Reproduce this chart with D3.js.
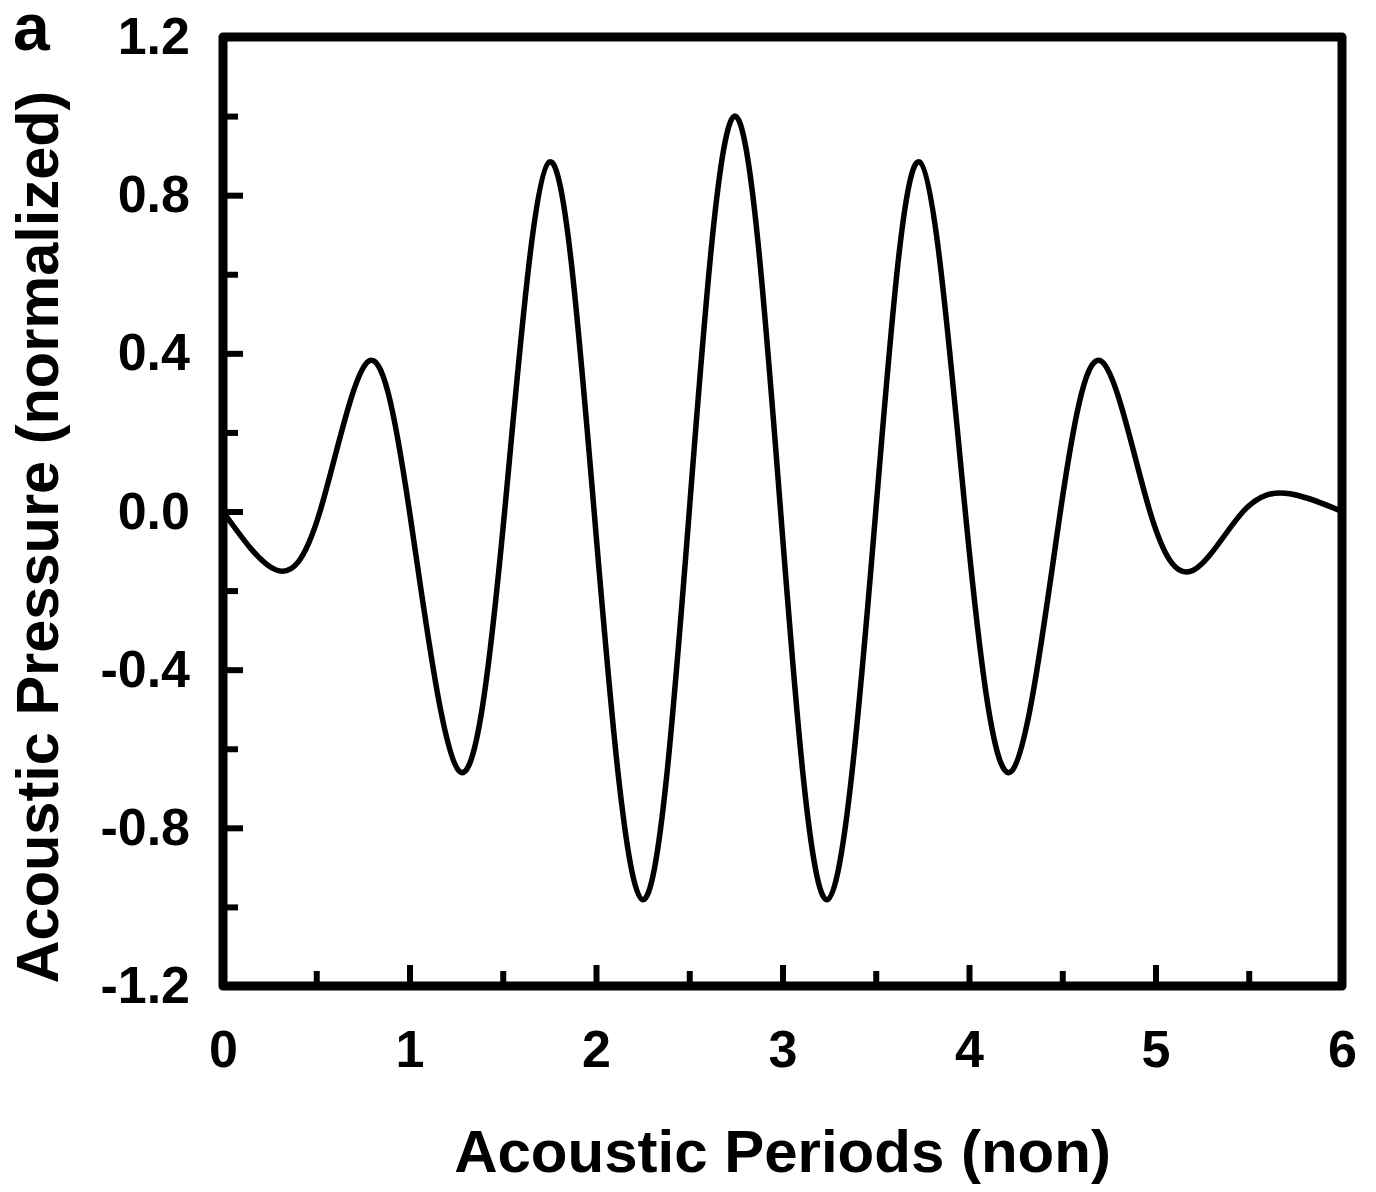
<!DOCTYPE html>
<html>
<head>
<meta charset="utf-8">
<script src="https://cdn.jsdelivr.net/npm/d3@7"></script>
<style>
  html, body { margin: 0; padding: 0; background: #fff; }
  svg text { font-family: "Liberation Sans", Arial, sans-serif; font-weight: bold; fill: #000; }
</style>
</head>
<body>
<svg id="chart" xmlns="http://www.w3.org/2000/svg" width="1376" height="1192"></svg>
<script>
// values: the extrema and zero crossings of the wave
const PERIODS = [0.00, 0.285, 0.52, 0.775, 1.00, 1.27, 1.51, 1.75, 1.99, 2.25, 2.50, 2.745,
    2.99, 3.24, 3.50, 3.735, 3.98, 4.225, 4.49, 4.715, 4.97, 5.205, 5.47, 5.72, 6.00];
const PRESSURE = [0.00, -0.148, 0.00, 0.378, 0.00, -0.658, 0.00, 0.884, 0.00, -0.982, 0.00, 1.00,
    0.00, -0.982, 0.00, 0.884, 0.00, -0.658, 0.00, 0.378, 0.00, -0.148, 0.00, 0.045, 0.00];

const X_TICKS = [0, 1, 2, 3, 4, 5, 6];
const X_MINOR_TICKS = [0.5, 1.5, 2.5, 3.5, 4.5, 5.5];
const Y_TICKS = [-1.2, -0.8, -0.4, 0.0, 0.4, 0.8, 1.2];
const Y_MINOR_TICKS = [-1.0, -0.6, -0.2, 0.2, 0.6, 1.0];

const X_TITLE = 'Acoustic Periods (non)';
const Y_TITLE = 'Acoustic Pressure (normalized)';
const PANEL_LABEL = 'a';

const plot = {left: 223, right: 1342, top: 37, bottom: 986};

const svg = d3.select('#chart');

const xScale = d3.scaleLinear()
    .domain([0, 6])
    .range([plot.left, plot.right]);
const yScale = d3.scaleLinear()
    .domain([-1.2, 1.2])
    .range([plot.bottom, plot.top]);

renderAxes();
renderLine();
renderFrame();
renderTitles();

function renderAxes() {
    const xAxis = d3.axisBottom(xScale)
        .tickValues(X_TICKS)
        .tickFormat(d => String(d))
        .tickSize(-21)
        .tickPadding(44);
    const xMinor = d3.axisBottom(xScale)
        .tickValues(X_MINOR_TICKS)
        .tickFormat('')
        .tickSize(-15);

    // plain hyphen for negatives, as in the reference
    const yAxis = d3.axisLeft(yScale)
        .tickValues(Y_TICKS)
        .tickFormat(d => d.toFixed(1))
        .tickSize(-20)
        .tickPadding(33);
    const yMinor = d3.axisLeft(yScale)
        .tickValues(Y_MINOR_TICKS)
        .tickFormat('')
        .tickSize(-15);

    const gx = svg.append('g')
        .attr('transform', `translate(0,${plot.bottom})`)
        .call(xAxis);
    const gxm = svg.append('g')
        .attr('transform', `translate(0,${plot.bottom})`)
        .call(xMinor);
    const gy = svg.append('g')
        .attr('transform', `translate(${plot.left},0)`)
        .call(yAxis);
    const gym = svg.append('g')
        .attr('transform', `translate(${plot.left},0)`)
        .call(yMinor);

    for (const g of [gx, gxm, gy, gym]) {
        g.select('.domain').remove();
        g.selectAll('line')
            .attr('stroke', '#000')
            .attr('stroke-width', 6);
        g.selectAll('text')
            .attr('font-size', 52)
            .attr('font-family', '"Liberation Sans", Arial, sans-serif')
            .attr('font-weight', 'bold')
            .attr('fill', '#000');
    }
}

function renderLine() {
    const data = PERIODS.map((p, i) => ({x: p, y: PRESSURE[i]}));
    // natural spline through extrema and zeros gives the smooth wave shape
    const line = d3.line()
        .curve(d3.curveNatural)
        .x(d => xScale(d.x))
        .y(d => yScale(d.y));

    svg.append('path')
        .attr('d', line(data))
        .attr('fill', 'none')
        .attr('stroke', '#000')
        .attr('stroke-width', 5.5)
        .attr('stroke-linejoin', 'round');
}

function renderFrame() {
    svg.append('rect')
        .attr('x', plot.left)
        .attr('y', plot.top)
        .attr('width', plot.right - plot.left)
        .attr('height', plot.bottom - plot.top)
        .attr('fill', 'none')
        .attr('stroke', '#000')
        .attr('stroke-width', 9)
        .attr('stroke-linejoin', 'round');
}

function renderTitles() {
    svg.append('text')
        .attr('x', (plot.left + plot.right) / 2)
        .attr('y', 1172)
        .attr('text-anchor', 'middle')
        .attr('font-size', 60)
        .text(X_TITLE);

    svg.append('text')
        .attr('transform', 'translate(58,537) rotate(-90)')
        .attr('text-anchor', 'middle')
        .attr('font-size', 59.5)
        .text(Y_TITLE);

    svg.append('text')
        .attr('x', 13)
        .attr('y', 50)
        .attr('font-size', 66)
        .text(PANEL_LABEL);
}
</script>
</body>
</html>
